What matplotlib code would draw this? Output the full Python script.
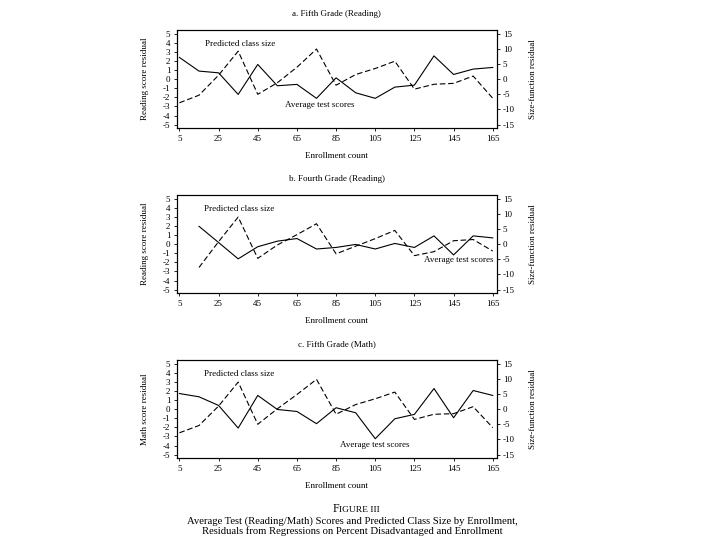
import matplotlib.pyplot as plt

plt.rcParams["font.family"] = ["Liberation Serif", "DejaVu Serif"]
plt.rcParams["axes.unicode_minus"] = False

enroll = [5, 15, 25, 35, 45, 55, 65, 75, 85, 95, 105, 115, 125, 135, 145, 155, 165]
enroll_b = enroll[1:]

# average test score residuals (left axis)
score_a = [2.38, 0.88, 0.69, -1.68, 1.61, -0.73, -0.58, -2.11, 0.14,
           -1.5, -2.11, -0.88, -0.66, 2.55, 0.51, 1.1, 1.28]
score_b = [1.95, 0.17, -1.62, -0.29, 0.32, 0.61, -0.54, -0.37,
           -0.04, -0.54, 0.07, -0.37, 0.9, -1.19, 0.9, 0.68]
score_c = [1.71, 1.35, 0.4, -2.08, 1.5, -0.04, -0.26, -1.6, 0.15,
           -0.4, -3.25, -1.06, -0.58, 2.26, -0.95, 2.04, 1.5]

# predicted class size residuals (right axis)
size_a = [-7.8, -5.3, 1.3, 9.2, -5.0, -1.2, 3.9, 9.9, -2.0,
          1.5, 3.5, 5.9, -3.3, -1.7, -1.4, 1.0, -6.3]
size_b = [-7.7, 0.8, 8.9, -4.7, -0.3, 3.1, 6.7, -3.2,
          -0.7, 1.8, 4.5, -3.8, -2.5, 1.1, 1.5, -2.3]
size_c = [-7.8, -5.4, 1.0, 8.9, -5.0, 0.1, 4.8, 9.8, -1.7,
          1.5, 3.4, 5.6, -3.4, -1.7, -1.5, 0.8, -6.1]

titles = ["a. Fifth Grade (Reading)", "b. Fourth Grade (Reading)", "c. Fifth Grade (Math)"]
ylabels = ["Reading score residual", "Reading score residual", "Math score residual"]
xticks = [5, 25, 45, 65, 85, 105, 125, 145, 165]

panels = [
    (enroll, score_a, size_a, (18, 3.9), (59, -2.8)),
    (enroll_b, score_b, size_b, (17.6, 3.9), (130, -1.7)),
    (enroll, score_c, size_c, (17.6, 3.8), (87, -3.95)),
]
bottoms = [0.7624, 0.4569, 0.1513]

fig = plt.figure(figsize=(7.2, 5.4), dpi=100)

for i, (x, score, size, lab1, lab2) in enumerate(panels):
    ax = fig.add_axes([0.2454, bottoms[i], 0.4444, 0.1822])
    ax2 = ax.twinx()

    ax.plot(x, score, color="black", lw=0.8)
    ax2.plot(x, size, color="black", lw=0.8, dashes=(5, 2.5))

    ax.set_xlim(3.6, 167)
    ax.set_ylim(-5.4, 5.4)
    ax2.set_ylim(-16.2, 16.2)
    ax.set_xticks(xticks)
    ax.set_yticks(range(-5, 6))
    ax2.set_yticks(range(-15, 16, 5))

    for a in (ax, ax2):
        a.tick_params(labelsize=6.5, length=2.5, width=0.6, pad=2)
        for s in a.spines.values():
            s.set_linewidth(0.8)

    ax.set_title(titles[i], fontsize=6.5, pad=10)
    ax.set_xlabel("Enrollment count", fontsize=6.5, labelpad=7)
    ax.set_ylabel(ylabels[i], fontsize=6.5, labelpad=10)
    ax2.set_ylabel("Size-function residual", fontsize=6.5, rotation=90, labelpad=10)

    ax.text(lab1[0], lab1[1], "Predicted class size", fontsize=6.5, va="center")
    ax.text(lab2[0], lab2[1], "Average test scores", fontsize=6.5, va="center")

# caption, "FIGURE" in small capitals
fig.text(0.4715, 0.052, "F", ha="right", fontsize=8.5)
fig.text(0.4715, 0.052, "IGURE III", ha="left", fontsize=6.8)
fig.text(0.49, 0.031, "Average Test (Reading/Math) Scores and Predicted Class Size by Enrollment,",
         ha="center", fontsize=7.7)
fig.text(0.49, 0.012, "Residuals from Regressions on Percent Disadvantaged and Enrollment",
         ha="center", fontsize=7.7)

plt.savefig("out.png", dpi=100)
